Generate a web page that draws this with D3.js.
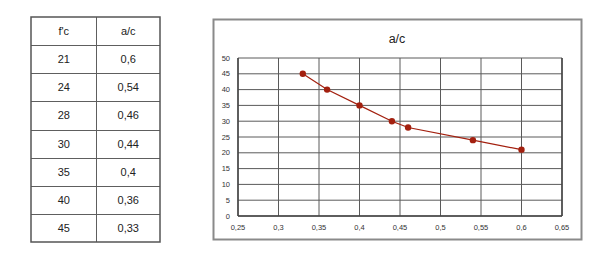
<!DOCTYPE html>
<html lang="en">
<head>
<meta charset="UTF-8">
<script src="https://d3js.org/d3.v7.min.js"></script>
<style>
    body { margin: 0; background: #fff; font-family: "Liberation Sans", Arial, sans-serif; }
    svg { display: block; }
</style>
</head>
<body>
<svg id="chart" width="600" height="255"></svg>
<script>
    // table values
    var headers = ["f'c", "a/c"];
    var fcValues = [21, 24, 28, 30, 35, 40, 45];
    var acLabels = ["0,6", "0,54", "0,46", "0,44", "0,4", "0,36", "0,33"];
    var acValues = [0.6, 0.54, 0.46, 0.44, 0.4, 0.36, 0.33];

    var xTicks = [0.25, 0.3, 0.35, 0.4, 0.45, 0.5, 0.55, 0.6, 0.65];
    var yTicks = [0, 5, 10, 15, 20, 25, 30, 35, 40, 45, 50];
    var chartTitle = "a/c";

    var svg = d3.select('#chart');
    var comma = function(v){ return String(+v.toFixed(2)).replace('.', ','); };

    // ---- table ----
    var tbl = {x0: 31, x1: 160, xMid: 96.5, y0: 17, y1: 242};
    var nRows = fcValues.length + 1;
    var rowY = d3.scaleLinear().domain([0, nRows]).range([tbl.y0, tbl.y1]);
    var tg = svg.append('g');

    d3.range(1, nRows).forEach(function(i){
        tg.append('line')
            .attr('x1', tbl.x0).attr('x2', tbl.x1)
            .attr('y1', Math.round(rowY(i)) + 0.5).attr('y2', Math.round(rowY(i)) + 0.5)
            .style('stroke', '#5e5e5e').style('stroke-width', 1);
    });
    tg.append('line')
        .attr('x1', tbl.xMid).attr('x2', tbl.xMid)
        .attr('y1', tbl.y0).attr('y2', tbl.y1)
        .style('stroke', '#5e5e5e').style('stroke-width', 1);
    tg.append('rect')
        .attr('x', tbl.x0).attr('y', tbl.y0)
        .attr('width', tbl.x1 - tbl.x0).attr('height', tbl.y1 - tbl.y0)
        .style('fill', 'none').style('stroke', '#555').style('stroke-width', 1.5);

    var rows = [headers].concat(fcValues.map(function(f, i){ return [String(f), acLabels[i]]; }));
    rows.forEach(function(r, i){
        var cy = (rowY(i) + rowY(i + 1)) / 2 + 4;
        tg.append('text').attr('x', (tbl.x0 + tbl.xMid) / 2).attr('y', cy)
            .attr('text-anchor', 'middle').style('font-size', '11px').style('fill', '#222').text(r[0]);
        tg.append('text').attr('x', (tbl.xMid + tbl.x1) / 2).attr('y', cy)
            .attr('text-anchor', 'middle').style('font-size', '11px').style('fill', '#222').text(r[1]);
    });

    // ---- chart ----
    svg.append('rect')
        .attr('x', 213.5).attr('y', 19.5).attr('width', 368).attr('height', 220)
        .style('fill', '#fff').style('stroke', '#8a8a8a').style('stroke-width', 2);

    var m = {left: 238, right: 562, top: 58, bottom: 216};
    var x = d3.scaleLinear().domain([0.25, 0.65]).range([m.left, m.right]);
    var y = d3.scaleLinear().domain([0, 50]).range([m.bottom, m.top]);

    var grid = svg.append('g');
    grid.selectAll('line.h').data(yTicks).enter().append('line')
        .attr('class', 'h')
        .attr('x1', m.left).attr('x2', m.right)
        .attr('y1', function(d){ return y(d); }).attr('y2', function(d){ return y(d); })
        .style('stroke', '#5a5a5a').style('stroke-width', 1);
    grid.selectAll('line.v').data(xTicks).enter().append('line')
        .attr('class', 'v')
        .attr('x1', function(d){ return x(d); }).attr('x2', function(d){ return x(d); })
        .attr('y1', m.top).attr('y2', m.bottom)
        .style('stroke', '#5a5a5a').style('stroke-width', 1);

    // axes frame
    grid.append('line').attr('x1', m.left).attr('x2', m.left).attr('y1', m.top).attr('y2', m.bottom)
        .style('stroke', '#444').style('stroke-width', 1.5);
    grid.append('line').attr('x1', m.left).attr('x2', m.right).attr('y1', m.bottom).attr('y2', m.bottom)
        .style('stroke', '#444').style('stroke-width', 1.5);
    grid.append('line').attr('x1', m.right).attr('x2', m.right).attr('y1', m.top).attr('y2', m.bottom)
        .style('stroke', '#444').style('stroke-width', 1.5);

    svg.append('g').selectAll('text').data(yTicks).enter().append('text')
        .attr('x', 230).attr('y', function(d){ return y(d) + 2.5; })
        .attr('text-anchor', 'end').style('font-size', '7.5px').style('fill', '#333')
        .text(function(d){ return d; });
    svg.append('g').selectAll('text').data(xTicks).enter().append('text')
        .attr('x', function(d){ return x(d); }).attr('y', 230)
        .attr('text-anchor', 'middle').style('font-size', '7.5px').style('fill', '#333')
        .text(function(d){ return comma(d); });

    svg.append('text').attr('x', 397).attr('y', 43)
        .attr('text-anchor', 'middle').style('font-size', '12.5px').style('fill', '#222')
        .text(chartTitle);

    var pts = acValues.map(function(a, i){ return {a: a, f: fcValues[i]}; });
    var line = d3.line().x(function(d){ return x(d.a); }).y(function(d){ return y(d.f); });
    svg.append('path').datum(pts).attr('d', line)
        .style('fill', 'none').style('stroke', '#a3200f').style('stroke-width', 1.2);
    svg.append('g').selectAll('circle').data(pts).enter().append('circle')
        .attr('cx', function(d){ return x(d.a); }).attr('cy', function(d){ return y(d.f); })
        .attr('r', 3.2).style('fill', '#a3200f');
</script>
</body>
</html>
